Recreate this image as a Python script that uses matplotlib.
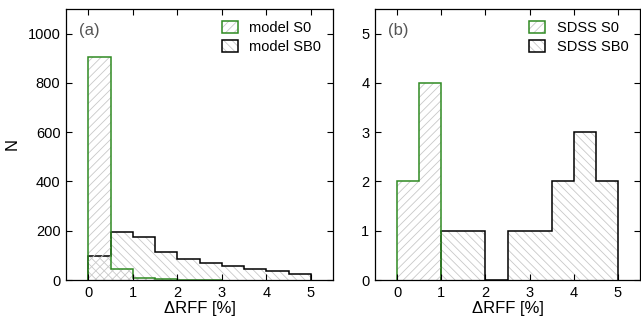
import numpy as np
import matplotlib.pyplot as plt
from matplotlib.patches import Patch
from matplotlib.legend_handler import HandlerTuple

plt.rcParams['font.family'] = ['Liberation Sans', 'DejaVu Sans']
plt.rcParams['hatch.linewidth'] = 0.6

# bin edges (0.5 % bins)
edges_model_s0 = np.arange(0, 3.01, 0.5)
edges_all = np.arange(0, 5.01, 0.5)

model_s0 = [907, 45, 10, 4, 2, 1]
model_sb0 = [97, 194, 174, 115, 84, 68, 57, 46, 35, 24]

edges_sdss_s0 = [0, 0.5, 1.0]
sdss_s0 = [2, 4]
edges_sdss_sb0 = np.arange(1.0, 5.01, 0.5)
sdss_sb0 = [1, 1, 0, 1, 1, 2, 3, 2]

GREEN = '#2f8a22'
HATCH = '#c8c8c8'

fig = plt.figure(figsize=(6.41, 3.23), dpi=100)
ax1 = fig.add_axes([66 / 641, 43 / 323, 267 / 641, 271 / 323])
ax2 = fig.add_axes([375 / 641, 43 / 323, 265 / 641, 271 / 323])


def draw(ax, vals, edges, color, hatch):
    ax.stairs(vals, edges, baseline=0, fill=True, facecolor='none',
              edgecolor=HATCH, hatch=hatch, linewidth=0)
    ax.stairs(vals, edges, baseline=0, fill=False, color=color, linewidth=1.1)


def handle(color, hatch):
    return (Patch(facecolor='none', edgecolor=HATCH, hatch=hatch, linewidth=0),
            Patch(facecolor='none', edgecolor=color, linewidth=1.1))


draw(ax1, model_sb0, edges_all, 'black', '\\\\\\\\')
draw(ax1, model_s0, edges_model_s0, GREEN, '////')
draw(ax2, sdss_sb0, edges_sdss_sb0, 'black', '\\\\\\\\')
draw(ax2, sdss_s0, edges_sdss_s0, GREEN, '////')

ax1.set_ylim(0, 1100)
ax1.set_yticks(range(0, 1001, 200))
ax2.set_ylim(0, 5.5)
ax2.set_yticks(range(0, 6))

labels = [('model S0', 'model SB0'), ('SDSS S0', 'SDSS SB0')]
for ax, tag, (l1, l2) in zip([ax1, ax2], ['(a)', '(b)'], labels):
    ax.set_xlim(-0.5, 5.5)
    ax.set_xticks(range(0, 6))
    ax.tick_params(direction='in', top=True, right=True, length=4,
                   labelsize=10.5, width=0.8, pad=4)
    for s in ax.spines.values():
        s.set_linewidth(0.9)
    ax.set_xlabel('ΔRFF [%]', fontsize=12, labelpad=1)
    ax.text(0.05, 0.95, tag, transform=ax.transAxes, fontsize=12,
            color='#555555', va='top', ha='left')
    ax.legend([handle(GREEN, '////'), handle('black', '\\\\\\\\')], [l1, l2],
              handler_map={tuple: HandlerTuple(ndivide=1)},
              loc='upper right', frameon=False, fontsize=10.5,
              handlelength=1.1, handleheight=0.9, handletextpad=0.8,
              labelspacing=0.35, borderaxespad=0.4)

ax1.set_ylabel('N', fontsize=12, labelpad=6)

fig.savefig('out.png', dpi=100)
